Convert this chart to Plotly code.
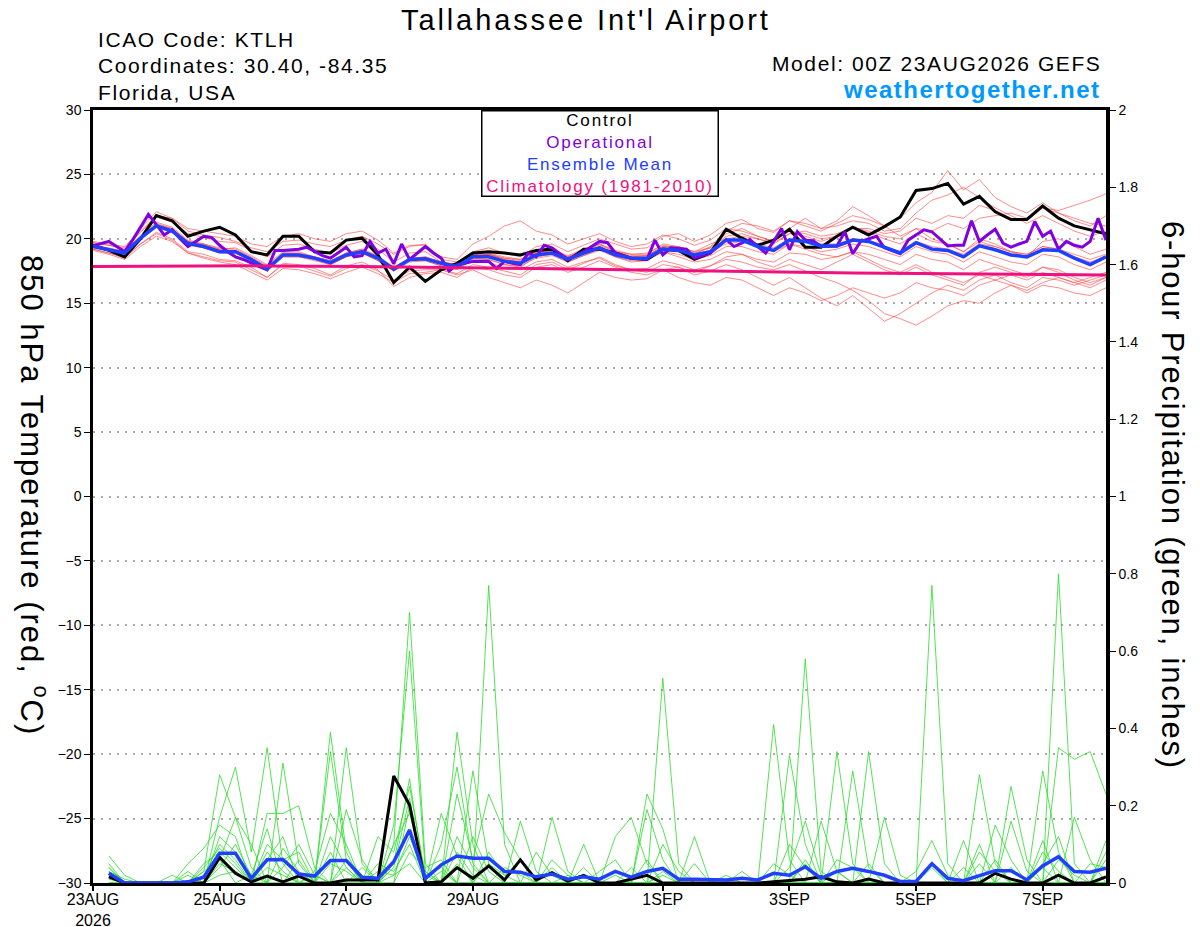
import pandas as pd
import plotly.graph_objects as go

times = pd.date_range("2026-08-23 00:00", "2026-09-08 00:00", freq="6h")     # 65 steps
times_op = pd.date_range("2026-08-23 00:00", "2026-09-08 00:00", freq="3h")  # operational, 3-hourly
times_precip = times[1:]                                                     # 6h totals start at 06Z

tick_dates = ["2026-08-23", "2026-08-25", "2026-08-27", "2026-08-29",
              "2026-09-01", "2026-09-03", "2026-09-05", "2026-09-07"]
tick_labels = ["23AUG<br>2026", "25AUG", "27AUG", "29AUG", "1SEP", "3SEP", "5SEP", "7SEP"]

# 850 hPa temperature, deg C
control_t = [19.5, 19.1, 18.6, 20.0, 21.8, 21.4, 20.2, 20.6, 20.9, 20.3, 19.0, 18.75, 20.2, 20.2, 19.0, 18.9,
             19.9, 20.05, 18.75, 16.6, 17.8, 16.7, 17.6, 18.1, 18.9, 19.0, 18.9, 18.75, 19.1, 19.2, 18.3, 19.2,
             19.2, 18.9, 18.5, 18.4, 19.2, 19.1, 18.4, 18.9, 20.75, 20.05, 19.5, 19.9, 20.75, 19.35, 19.35, 20.2,
             20.9, 20.3, 20.95, 21.7, 23.75, 23.9, 24.3, 22.7, 23.3, 22.1, 21.5, 21.5, 22.55, 21.6, 21.0, 20.7,
             20.4]

mean_t = [19.4, 19.15, 18.9, 20.05, 21.0, 20.6, 19.65, 19.4, 19.0, 19.0, 18.4, 17.65, 18.75, 18.75, 18.5, 18.15,
          18.75, 19.0, 18.5, 17.65, 18.4, 18.45, 18.1, 17.85, 18.6, 18.6, 18.25, 18.1, 18.75, 18.9, 18.4, 18.9,
          19.3, 18.75, 18.5, 18.5, 19.2, 19.1, 18.75, 19.0, 19.9, 19.9, 19.4, 19.1, 19.9, 19.8, 19.45, 19.45,
          19.9, 19.8, 19.35, 18.9, 19.7, 19.2, 19.1, 18.6, 19.45, 19.15, 18.75, 18.6, 19.15, 19.1, 18.5, 18.0,
          18.6]

climo_t = [17.86, 17.87, 17.88, 17.89, 17.9, 17.9, 17.91, 17.91, 17.91, 17.91, 17.91, 17.9, 17.9, 17.89, 17.88, 17.87,
           17.86, 17.85, 17.84, 17.83, 17.82, 17.8, 17.79, 17.77, 17.76, 17.74, 17.72, 17.7, 17.69, 17.67, 17.65, 17.63,
           17.61, 17.59, 17.57, 17.55, 17.53, 17.51, 17.5, 17.48, 17.46, 17.45, 17.43, 17.42, 17.4, 17.39, 17.38, 17.36,
           17.35, 17.34, 17.33, 17.31, 17.3, 17.29, 17.28, 17.27, 17.26, 17.25, 17.24, 17.23, 17.23, 17.22, 17.21, 17.21,
           17.2]

oper_t = [19.45, 19.6, 19.8, 19.4, 19.0, 19.9, 20.9, 21.9, 21.1, 20.3, 20.7, 20.0, 19.4, 19.8, 20.2, 20.1,
          19.5, 19.0, 18.6, 18.4, 18.1, 17.85, 17.6, 19.1, 19.1, 19.15, 19.2, 19.35, 19.0, 18.7, 18.5, 18.9,
          19.35, 18.6, 18.7, 19.8, 18.9, 19.2, 18.06, 19.6, 18.4, 18.9, 19.4, 18.9, 18.5, 17.5, 18.0, 18.1,
          18.25, 18.25, 18.25, 17.7, 18.25, 18.1, 18.0, 18.9, 18.6, 19.5, 19.3, 18.85, 18.4, 18.7, 19.0, 19.4,
          19.8, 19.7, 18.9, 18.7, 18.5, 18.45, 18.4, 19.9, 18.75, 19.3, 19.25, 19.2, 18.5, 18.7, 18.9, 19.4,
          19.95, 19.4, 19.65, 19.95, 19.4, 18.9, 19.8, 20.8, 19.15, 20.55, 19.9, 19.85, 19.4, 19.4, 19.45, 20.55,
          18.85, 19.8, 20.0, 20.2, 19.3, 19.1, 18.85, 19.9, 20.3, 20.7, 20.55, 20.0, 19.45, 19.5, 19.5, 21.4,
          19.8, 20.3, 20.75, 19.65, 19.35, 19.6, 19.8, 21.35, 20.2, 20.6, 19.2, 19.8, 19.5, 19.35, 19.8, 21.6,
          19.9]

members_t = [
    [19.7, 19.5, 19.3, 20.8, 22.1, 21.6, 20.6, 20.3, 20.1, 19.8, 19.3, 19.0, 19.8, 19.9, 19.6, 19.4, 19.9, 20.2, 19.6, 18.8, 19.4, 19.6,
     18.4, 18.2, 19.0, 19.3, 18.9, 18.6, 19.4, 19.6, 19.0, 19.5, 20.0, 19.6, 19.2, 19.3, 20.2, 20.4, 19.8, 20.3, 21.2, 21.5, 20.8, 20.5,
     21.4, 21.0, 20.6, 21.2, 21.8, 21.5, 21.0, 21.6, 22.8, 23.6, 25.3, 23.8, 24.6, 23.2, 22.5, 22.0, 22.8, 22.0, 21.6, 21.2, 21.0],
    [19.1, 18.8, 18.4, 19.4, 20.2, 19.8, 18.9, 18.5, 18.2, 18.0, 17.4, 16.8, 17.7, 17.6, 17.3, 16.9, 17.4, 17.8, 17.3, 16.6, 17.3, 17.4,
     17.6, 17.3, 18.0, 17.8, 17.5, 17.2, 18.0, 18.2, 17.6, 18.1, 18.6, 18.0, 17.6, 17.4, 18.0, 17.8, 17.2, 17.5, 18.0, 17.6, 17.0, 16.4,
     17.0, 16.2, 15.4, 14.8, 15.6, 14.6, 13.6, 14.2, 15.0, 15.8, 16.4, 16.0, 16.8, 17.2, 16.6, 16.2, 17.0, 16.8, 16.4, 16.8, 17.2],
    [19.5, 19.2, 18.8, 20.0, 21.2, 20.8, 19.8, 19.6, 19.2, 19.3, 18.7, 18.0, 19.0, 19.0, 18.6, 18.3, 18.9, 19.2, 18.6, 17.8, 18.3, 18.5,
     18.0, 17.7, 18.3, 18.2, 17.7, 17.6, 18.2, 18.4, 17.8, 18.2, 18.5, 17.9, 17.6, 17.7, 18.3, 18.0, 17.6, 17.9, 18.4, 18.2, 17.8, 17.6,
     18.0, 17.5, 17.0, 16.6, 16.0, 15.2, 14.2, 13.8, 13.3, 14.0, 14.8, 15.2, 15.0, 15.8, 16.4, 16.0, 16.6, 17.0, 16.6, 16.2, 16.8],
    [19.8, 19.6, 19.4, 20.6, 21.8, 21.6, 20.8, 20.6, 20.4, 20.2, 19.6, 19.4, 20.2, 20.4, 20.0, 19.8, 20.4, 20.6, 19.9, 18.9, 19.5, 19.5,
     18.6, 18.4, 19.6, 20.2, 21.0, 21.4, 20.6, 20.3, 19.6, 20.0, 20.4, 19.8, 19.4, 19.6, 20.3, 20.0, 19.5, 19.9, 20.8, 20.6, 20.2, 19.8,
     20.6, 20.4, 20.0, 20.2, 20.8, 20.5, 20.0, 19.6, 20.4, 19.8, 19.6, 19.0, 19.8, 19.4, 19.0, 18.8, 19.4, 19.2, 18.8, 18.4, 18.8],
    [19.2, 18.9, 18.5, 19.6, 20.4, 19.9, 18.9, 18.6, 18.3, 18.2, 17.6, 17.0, 18.0, 17.9, 17.5, 17.1, 17.7, 18.0, 17.5, 16.8, 17.5, 17.6,
     17.6, 17.2, 17.6, 17.0, 16.6, 16.2, 16.8, 16.4, 15.8, 16.6, 17.4, 17.0, 16.8, 16.9, 17.6, 17.8, 17.4, 17.9, 18.6, 18.8, 18.4, 18.2,
     18.9, 18.8, 18.4, 18.6, 19.0, 18.8, 18.4, 18.0, 18.8, 18.4, 18.2, 17.6, 18.4, 18.0, 17.6, 17.2, 17.8, 17.6, 17.0, 16.6, 17.0],
    [19.4, 19.2, 18.9, 20.1, 21.1, 20.7, 19.7, 19.5, 19.1, 19.0, 18.5, 17.7, 18.8, 18.8, 18.5, 18.2, 18.8, 19.1, 18.5, 17.6, 18.4, 18.5,
     18.1, 17.9, 18.7, 18.8, 18.5, 18.4, 19.0, 19.1, 18.6, 19.1, 19.6, 19.0, 18.8, 18.8, 19.6, 19.4, 19.0, 19.3, 20.4, 20.8, 20.2, 19.8,
     20.8, 21.6, 20.8, 21.4, 22.5, 21.8, 21.0, 20.2, 20.8, 20.0, 19.6, 19.0, 20.0, 19.6, 19.0, 18.6, 19.8, 20.0, 19.4, 18.8, 19.2],
    [19.6, 19.2, 18.9, 20.2, 21.3, 20.9, 19.9, 19.6, 19.3, 19.2, 18.6, 17.9, 18.9, 18.9, 18.6, 18.3, 18.9, 19.2, 18.7, 17.8, 18.5, 18.6,
     18.2, 18.0, 18.8, 18.9, 18.6, 18.4, 19.0, 19.2, 18.7, 19.2, 19.6, 19.1, 18.8, 18.9, 19.5, 19.3, 18.9, 19.3, 20.2, 20.4, 20.0, 19.7,
     20.4, 20.6, 20.2, 20.4, 20.9, 20.6, 20.2, 20.0, 20.8, 20.6, 21.2, 20.8, 21.6, 21.8, 22.0, 21.6, 22.4, 22.2, 22.6, 23.0, 23.5],
    [19.3, 19.1, 18.8, 19.9, 20.9, 20.5, 19.5, 19.3, 18.9, 18.9, 18.3, 17.5, 18.6, 18.6, 18.3, 18.0, 18.6, 18.9, 18.3, 17.5, 18.3, 18.3,
     17.9, 17.6, 18.4, 18.4, 18.0, 17.9, 18.5, 18.7, 18.2, 18.7, 19.1, 18.6, 18.2, 18.3, 19.0, 18.8, 18.4, 18.7, 19.4, 19.4, 19.0, 18.8,
     19.6, 19.2, 18.8, 18.6, 19.0, 18.4, 17.8, 17.4, 18.0, 17.4, 17.0, 16.6, 17.2, 16.8, 16.4, 15.8, 16.4, 16.2, 15.8, 15.6, 16.2],
    [19.5, 19.2, 18.9, 20.0, 21.0, 20.6, 19.6, 19.3, 19.0, 19.0, 18.4, 17.6, 18.7, 18.7, 18.4, 18.1, 18.7, 19.0, 18.5, 17.6, 18.4, 18.4,
     18.1, 17.9, 18.6, 18.6, 18.2, 18.1, 18.8, 19.0, 18.4, 18.9, 19.3, 18.7, 18.4, 18.4, 19.2, 19.0, 18.7, 19.0, 19.6, 19.8, 19.4, 19.0,
     19.6, 19.4, 19.0, 19.2, 19.6, 19.4, 19.0, 18.6, 19.4, 19.0, 18.8, 18.2, 19.0, 18.6, 18.2, 18.0, 18.8, 18.6, 18.0, 17.6, 18.2],
    [19.7, 19.5, 19.2, 20.5, 21.7, 21.3, 20.4, 20.1, 19.8, 19.7, 19.1, 18.6, 19.5, 19.6, 19.2, 18.9, 19.5, 19.8, 19.2, 18.2, 18.9, 19.0,
     18.2, 18.0, 18.7, 18.8, 18.5, 18.3, 19.0, 19.2, 18.6, 19.0, 19.4, 18.9, 18.6, 18.7, 19.4, 19.2, 18.8, 19.4, 20.6, 21.2, 21.0, 20.6,
     21.4, 21.2, 20.8, 21.0, 21.4, 21.2, 20.6, 20.8, 22.0, 23.0, 23.4, 24.0, 23.2, 22.4, 21.8, 21.2, 21.8, 21.2, 20.6, 20.2, 20.6],
    [19.2, 18.9, 18.6, 19.6, 20.5, 20.0, 19.0, 18.8, 18.4, 18.3, 17.8, 17.0, 18.1, 18.0, 17.7, 17.2, 17.9, 18.2, 17.6, 16.3, 17.0, 17.3,
     17.4, 17.0, 17.8, 17.6, 17.2, 17.0, 17.8, 18.0, 17.4, 17.8, 18.3, 17.8, 17.4, 17.2, 17.6, 17.0, 16.6, 16.4, 17.0, 16.8, 16.2, 15.6,
     16.2, 15.8, 15.2, 15.6, 16.2, 15.8, 15.4, 15.8, 16.6, 16.2, 16.0, 15.6, 16.4, 16.8, 17.2, 16.8, 17.4, 17.0, 16.6, 17.0, 17.4],
    [19.5, 19.2, 19.0, 20.1, 21.1, 20.7, 19.8, 19.5, 19.1, 19.1, 18.5, 17.7, 18.8, 18.8, 18.6, 18.2, 18.8, 19.1, 18.6, 17.7, 18.5, 18.5,
     18.2, 17.9, 18.7, 18.7, 18.4, 18.2, 18.9, 19.0, 18.5, 19.0, 19.4, 18.8, 18.6, 18.6, 19.3, 19.2, 18.8, 19.1, 19.9, 20.0, 19.6, 19.3,
     20.0, 19.9, 19.6, 19.6, 20.0, 19.9, 19.4, 19.0, 19.8, 19.4, 19.2, 18.8, 19.6, 19.4, 19.0, 18.8, 19.4, 19.2, 18.6, 18.2, 18.6],
    [19.4, 19.1, 18.8, 20.0, 21.0, 20.6, 19.6, 19.3, 19.0, 18.9, 18.3, 17.6, 18.6, 18.6, 18.4, 18.0, 18.6, 18.9, 18.3, 17.5, 18.2, 18.3,
     17.9, 17.7, 18.5, 18.4, 18.0, 17.8, 18.6, 18.8, 18.2, 18.7, 19.2, 18.6, 18.3, 18.4, 19.0, 18.6, 18.2, 18.4, 19.0, 18.8, 18.2, 17.8,
     18.4, 18.0, 17.6, 18.2, 18.8, 18.2, 17.6, 17.2, 17.8, 17.2, 16.8, 16.4, 17.4, 17.8, 17.4, 17.0, 17.8, 17.4, 16.8, 16.4, 17.0],
    [19.5, 19.3, 19.0, 20.2, 21.1, 20.8, 19.8, 19.5, 19.2, 19.1, 18.5, 17.8, 18.9, 18.8, 18.5, 18.2, 18.8, 19.1, 18.6, 17.7, 18.4, 18.6,
     18.2, 18.0, 18.8, 18.8, 18.4, 18.2, 18.9, 19.1, 18.6, 19.1, 19.5, 19.0, 18.7, 18.7, 19.4, 19.4, 19.0, 19.6, 20.0, 20.2, 20.0, 19.6,
     20.4, 20.2, 19.8, 20.2, 20.8, 20.8, 20.4, 20.6, 21.6, 21.2, 21.8, 21.6, 22.6, 22.2, 21.6, 21.4, 22.4, 22.0, 21.4, 21.0, 21.8],
]

# 6-hour precipitation, inches (06Z 23AUG onward)
control_p = [0.016, 0, 0, 0, 0, 0, 0, 0.066, 0.025, 0.003, 0.018, 0.003, 0.018, 0, 0, 0.008,
             0.008, 0.008, 0.277, 0.202, 0, 0.003, 0.04, 0.012, 0.044, 0.008, 0.06, 0.008, 0.027, 0.005, 0.02, 0,
             0, 0.01, 0.02, 0, 0, 0, 0, 0, 0, 0, 0.003, 0.006, 0.01, 0.016, 0.003, 0,
             0.01, 0, 0, 0, 0, 0, 0, 0, 0.025, 0.01, 0, 0, 0.02, 0, 0, 0.016]

mean_p = [0.025, 0, 0, 0, 0, 0.003, 0.015, 0.077, 0.077, 0.012, 0.06, 0.061, 0.023, 0.018, 0.058, 0.058,
          0.015, 0.012, 0.055, 0.137, 0.012, 0.047, 0.07, 0.064, 0.064, 0.03, 0.028, 0.016, 0.023, 0.01, 0.016, 0.01,
          0.03, 0.015, 0.03, 0.038, 0.01, 0.01, 0.008, 0.008, 0.012, 0.008, 0.025, 0.02, 0.042, 0.012, 0.03, 0.038,
          0.03, 0.02, 0.004, 0.004, 0.05, 0.012, 0.006, 0.018, 0.032, 0.032, 0.008, 0.044, 0.068, 0.03, 0.028, 0.038]

members_p = [
    [.07, .02, 0, 0, 0, 0, .03, .28, .17, .04, 0, 0, 0, 0, 0, 0,
     0, 0, .10, .70, .05, 0, .08, .02, 0, 0, 0, 0, 0, 0, 0, 0,
     0, 0, 0, .53, .05, 0, 0, 0, 0, 0, 0, 0, .06, 0, 0, 0,
     0, 0, 0, 0, .04, 0, 0, 0, 0, 0, 0, 0, .80, .05, 0, 0],
    [.04, 0, 0, 0, 0, 0, 0, .17, .30, .08, .35, .05, 0, 0, 0, 0,
     0, 0, .15, .60, .03, 0, 0, 0, .77, .10, 0, 0, 0, .02, 0, 0,
     0, 0, 0, 0, 0, 0, 0, 0, 0, 0, 0, .33, .10, 0, 0, 0,
     0, 0, 0, 0, 0, 0, 0, .28, .05, 0, 0, 0, 0, 0, 0, .11],
    [.03, 0, 0, 0, 0, .05, .09, .15, .12, 0, 0, .31, .05, 0, .39, .08,
     0, 0, .05, .27, 0, 0, .39, .10, 0, 0, 0, 0, 0, 0, 0, 0,
     0, 0, .23, .14, 0, 0, 0, 0, 0, 0, 0, 0, .58, .03, 0, 0,
     0, 0, 0, 0, .77, .05, 0, 0, 0, 0, 0, .11, 0, 0, 0, 0],
    [.05, 0, 0, 0, 0, 0, .02, .10, .06, 0, .18, .18, .20, .04, 0, .35,
     .05, 0, 0, .20, 0, .18, .07, 0, 0, 0, .16, .03, 0, 0, .10, 0,
     0, 0, 0, 0, 0, 0, 0, 0, 0, 0, 0, 0, 0, 0, .34, .05,
     0, 0, 0, 0, 0, 0, .11, 0, 0, 0, 0, 0, .35, .32, .34, .23],
    [.02, 0, 0, 0, 0, 0, 0, .06, .17, .10, 0, 0, 0, 0, .34, .06,
     0, .12, .08, .25, .02, 0, 0, .29, .05, 0, 0, 0, .17, .03, 0, 0,
     0, 0, 0, 0, 0, .12, 0, 0, 0, 0, .41, .06, 0, 0, 0, .29,
     .04, 0, 0, 0, 0, 0, 0, 0, 0, .25, .06, 0, 0, 0, 0, 0],
    [.01, 0, 0, 0, 0, .03, 0, .12, .08, 0, .10, .06, .08, 0, 0, .19,
     .06, 0, .04, .22, 0, .10, .30, .05, 0, 0, 0, 0, 0, 0, 0, 0,
     .12, .17, .05, 0, 0, 0, 0, 0, 0, 0, 0, 0, 0, 0, 0, 0,
     .34, .05, 0, 0, 0, 0, 0, 0, .15, .06, 0, .29, .08, 0, 0, 0],
    [0, 0, 0, 0, .02, 0, .05, .08, .04, 0, .06, .12, 0, .03, .18, .10,
     0, 0, .10, .18, .03, 0, .23, .06, .23, .13, .06, 0, 0, 0, 0, 0,
     0, 0, 0, .10, .03, 0, 0, 0, 0, 0, 0, 0, 0, 0, 0, 0,
     0, .17, .02, 0, 0, 0, 0, 0, 0, 0, 0, 0, 0, .17, .06, 0],
    [.03, .01, 0, 0, 0, 0, 0, .04, .10, .02, .14, 0, .06, 0, .08, 0,
     .04, 0, .06, .14, 0, .03, 0, 0, .05, .02, .03, 0, 0, 0, .04, 0,
     0, 0, .19, .06, 0, 0, 0, 0, 0, 0, 0, 0, 0, .16, .03, 0,
     0, 0, 0, 0, 0, 0, 0, .05, 0, .16, .03, 0, 0, 0, 0, .08],
    [0, 0, 0, 0, 0, 0, .04, .09, .05, 0, 0, .04, .10, .02, 0, .06,
     0, .05, .03, .10, 0, 0, .12, .04, 0, 0, 0, .08, .02, 0, 0, .03,
     .06, 0, 0, 0, 0, .05, 0, .02, 0, 0, 0, .10, .04, 0, 0, 0,
     0, 0, 0, .03, .11, .02, 0, 0, 0, 0, 0, .05, .12, 0, 0, 0],
    [.02, 0, 0, 0, 0, .02, 0, .05, .03, 0, .04, .02, 0, 0, .05, .03,
     0, 0, 0, .08, .04, .06, 0, .12, .03, 0, 0, 0, .04, 0, .02, 0,
     0, .04, 0, .03, 0, 0, 0, 0, .03, 0, 0, 0, .05, 0, .06, .04,
     0, 0, 0, 0, 0, 0, .04, 0, .06, 0, 0, .04, 0, 0, .05, .04],
    [0, 0, 0, 0, 0, 0, 0, .02, .03, 0, .08, .03, 0, .02, 0, .04,
     0, .03, .02, .05, 0, 0, .05, 0, 0, .04, .02, 0, 0, 0, 0, 0,
     .02, 0, 0, .02, 0, 0, 0, 0, 0, 0, 0, .04, .16, .02, 0, 0,
     .05, 0, 0, 0, 0, 0, 0, .08, .03, 0, 0, 0, .06, .02, 0, 0],
    [.04, 0, 0, 0, 0, 0, .03, .06, 0, .02, 0, .09, .03, 0, .12, .04,
     0, 0, .02, .12, .02, .04, 0, 0, .08, .02, 0, 0, .06, .02, 0, 0,
     0, 0, .06, 0, 0, 0, 0, 0, 0, 0, .05, .02, 0, 0, .03, 0,
     0, 0, 0, 0, .05, 0, 0, .10, 0, .04, 0, .08, .03, 0, 0, .06],
]

FONT = "Liberation Sans, Arial, sans-serif"

# the page body adds an 8px margin, so the figure is laid out 8px up/left
# to put the plot area at x 93..1106, y 110..883 on screen
def px(x):
    return (x - 93) / 1013

def py(y):
    return (883 - y) / 773

# the original lettering is set rather loose
def spaced(text, ls, color=None):
    style = "letter-spacing:%.1fpx" % ls
    if color:
        style = "color:%s;" % color + style
    return "<span style='%s'>%s</span>" % (style, text)

fig = go.Figure()

for m in members_t:
    fig.add_trace(go.Scatter(x=times, y=m, mode="lines",
                             line=dict(color="rgba(255,60,60,0.75)", width=0.8)))

for m in members_p:
    fig.add_trace(go.Scatter(x=times_precip, y=m, mode="lines", yaxis="y2",
                             line=dict(color="rgb(40,220,40)", width=0.8)))

fig.add_trace(go.Scatter(x=times, y=control_t, mode="lines", line=dict(color="black", width=3)))
fig.add_trace(go.Scatter(x=times_precip, y=control_p, mode="lines", yaxis="y2",
                         line=dict(color="black", width=3)))
fig.add_trace(go.Scatter(x=times_op, y=oper_t, mode="lines", line=dict(color="rgb(128,0,224)", width=3)))
fig.add_trace(go.Scatter(x=times, y=mean_t, mode="lines", line=dict(color="rgb(32,64,255)", width=3.5)))
fig.add_trace(go.Scatter(x=times_precip, y=mean_p, mode="lines", yaxis="y2",
                         line=dict(color="rgb(32,64,255)", width=3.5)))
fig.add_trace(go.Scatter(x=times, y=climo_t, mode="lines", line=dict(color="rgb(240,16,128)", width=3)))

legend_text = "<br>".join([
    spaced("Control", 1.8, "black"),
    spaced("Operational", 1.8, "rgb(128,0,224)"),
    spaced("Ensemble Mean", 1.8, "rgb(32,64,255)"),
    spaced("Climatology (1981-2010)", 1.8, "rgb(240,16,128)"),
])

annotations = [
    dict(text=spaced("Tallahassee Int'l Airport", 2.9), x=px(586), y=py(20), font=dict(size=29)),
    dict(text=spaced("ICAO Code: KTLH", 1.6), x=px(96), y=py(39), xanchor="left", font=dict(size=21)),
    dict(text=spaced("Coordinates: 30.40, -84.35", 1.6), x=px(96), y=py(66), xanchor="left", font=dict(size=21)),
    dict(text=spaced("Florida, USA", 1.6), x=px(96), y=py(93), xanchor="left", font=dict(size=21)),
    dict(text=spaced("Model: 00Z 23AUG2026 GEFS", 1.6), x=px(1103), y=py(63), xanchor="right",
         font=dict(size=21)),
    dict(text="<b>" + spaced("weathertogether.net", 1.5) + "</b>", x=px(1103), y=py(89), xanchor="right",
         font=dict(size=24, color="rgb(0,153,255)")),
    dict(text=legend_text, x=px(599.5), y=1, yanchor="top", width=235, height=84,
         bgcolor="white", bordercolor="black", borderwidth=1.5, borderpad=0, font=dict(size=17)),
    dict(text=spaced("850 hPa Temperature (red, <sup>o</sup>C)", 2), x=px(34), y=py(495), textangle=90,
         font=dict(size=31)),
    dict(text=spaced("6-hour Precipitation (green, inches)", 1.8), x=px(1173), y=py(495), textangle=90,
         font=dict(size=31)),
]
for a in annotations:
    a.update(xref="paper", yref="paper", showarrow=False)
    a.setdefault("xanchor", "center")
    a.setdefault("yanchor", "middle")
    a["font"].setdefault("color", "black")
    a["font"]["family"] = FONT

fig.update_layout(
    width=1200, height=927, autosize=False,
    margin=dict(l=85, r=102, t=102, b=52),
    paper_bgcolor="white", plot_bgcolor="white",
    showlegend=False, hovermode=False,
    font=dict(family=FONT, color="black"),
    annotations=annotations,
    xaxis=dict(
        range=[times[0], times[-1]], tickmode="array",
        tickvals=pd.to_datetime(tick_dates), ticktext=tick_labels,
        ticks="outside", ticklen=5, tickwidth=1.5, tickcolor="black",
        ticklabelstandoff=-5,
        showline=True, linewidth=3, linecolor="black", mirror=True,
        showgrid=False, zeroline=False, tickfont=dict(size=16), automargin=False,
    ),
    yaxis=dict(
        range=[-30, 30], dtick=5, ticks="outside", ticklen=6, tickcolor="black",
        showline=True, linewidth=2.5, linecolor="black",
        showgrid=True, gridcolor="#aaaaaa", griddash="2px,6px", gridwidth=1.5,
        zeroline=False, tickfont=dict(size=14), automargin=False,
    ),
    yaxis2=dict(
        range=[0, 2], dtick=0.2, overlaying="y", side="right",
        ticks="outside", ticklen=6, tickcolor="black",
        showline=True, linewidth=3.5, linecolor="black",
        showgrid=False, zeroline=False, tickfont=dict(size=14), automargin=False,
    ),
)

fig.write_html("out.html")
